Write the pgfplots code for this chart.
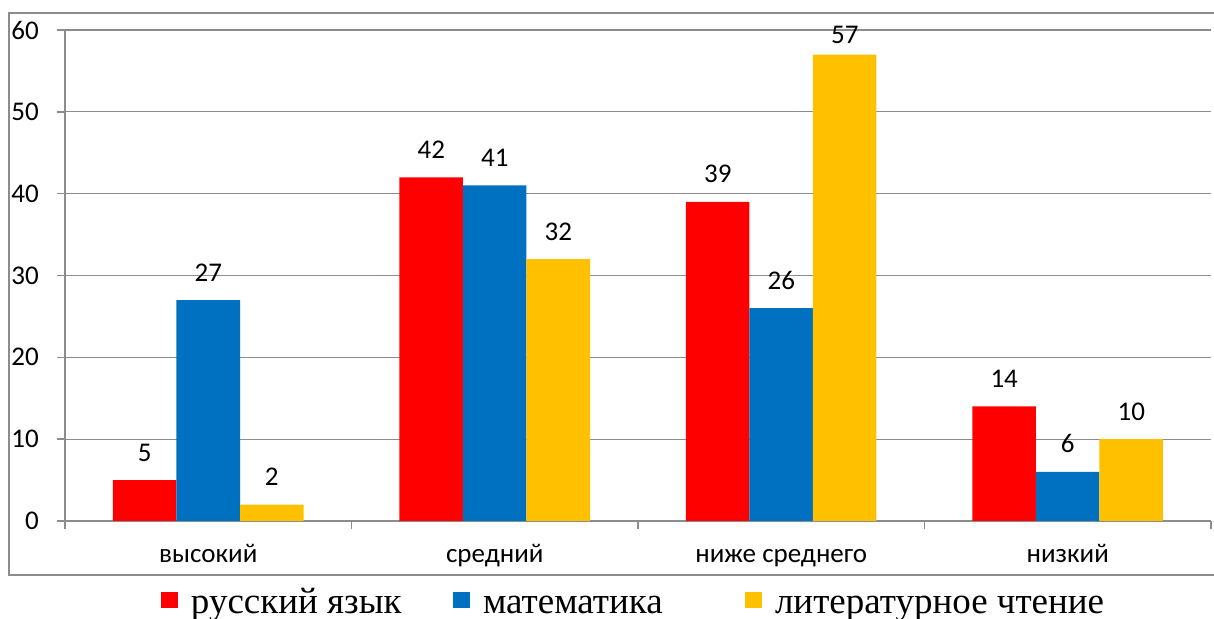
\documentclass[border=0pt]{standalone}
\usepackage{fontspec}
\setmainfont{Carlito}
\newfontfamily\legfont{Liberation Serif}
\usepackage{pgfplots}
\pgfplotsset{compat=1.18}
\definecolor{cred}{HTML}{FF0000}
\definecolor{cblue}{HTML}{0070C0}
\definecolor{cyel}{HTML}{FFC000}
\definecolor{cgrid}{HTML}{8C8C8C}
\begin{document}
\begin{tikzpicture}[x=1bp,y=1bp]
\useasboundingbox (0,0) rectangle (1214,619);
\draw[cgrid, line width=1.5bp] (9,44) rectangle (1240,606);
\begin{axis}[
  at={(65bp,98bp)}, anchor=south west,
  scale only axis, width=1146bp, height=491bp,
  ymin=0, ymax=60, xmin=-0.5, xmax=3.5,
  ytick={0,10,...,60},
  ymajorgrids, grid style={cgrid, line width=1.3bp},
  axis x line*=bottom, axis y line*=left,
  axis line style={cgrid, line width=1.5bp, -},
  tick style={cgrid, line width=1.5bp},
  tick align=outside, major tick length=8bp,
  xtick={-0.5,0.5,1.5,2.5,3.5}, xticklabels={},
  extra x ticks={0,1,2,3},
  extra x tick labels={высокий, средний, ниже среднего, низкий},
  extra x tick style={major tick length=0pt, grid=none,
     xticklabel style={anchor=base, yshift=-42bp}},
  /pgf/number format/assume math mode=true,
  ticklabel style={font=\fontsize{27bp}{31bp}\selectfont, text=black},
  yticklabel style={anchor=east, inner sep=0pt, xshift=-18bp},
  ybar=0pt, bar width=63.5bp,
  visualization depends on={y \as \yv},
  nodes near coords,
  nodes near coords style={anchor=base, yshift={ifthenelse(\yv>50,11,19)*1bp}, font=\fontsize{27bp}{31bp}\selectfont, text=black},
  legend image code/.code={\fill[#1] (0bp,-8bp) rectangle (17bp,8bp);},
  legend columns=3,
  legend style={at={(0.08377,-0.1609)}, anchor=west, draw=none, inner sep=0pt, outer sep=0pt,
     column sep=0pt, nodes={inner sep=0pt}, font=\legfont\fontsize{37bp}{40bp}\selectfont},
]
\addplot[fill=cred, draw=none] coordinates {(0,5) (1,42) (2,39) (3,14)};
\addplot[fill=cblue, draw=none] coordinates {(0,27) (1,41) (2,26) (3,6)};
\addplot[fill=cyel, draw=none] coordinates {(0,2) (1,32) (2,57) (3,10)};
\legend{\strut\hspace*{13bp}\makebox[262bp][l]{русский язык},\strut\hspace*{13bp}\makebox[262bp][l]{математика},\strut\hspace*{13bp}литературное чтение}
\end{axis}
\end{tikzpicture}
\end{document}
